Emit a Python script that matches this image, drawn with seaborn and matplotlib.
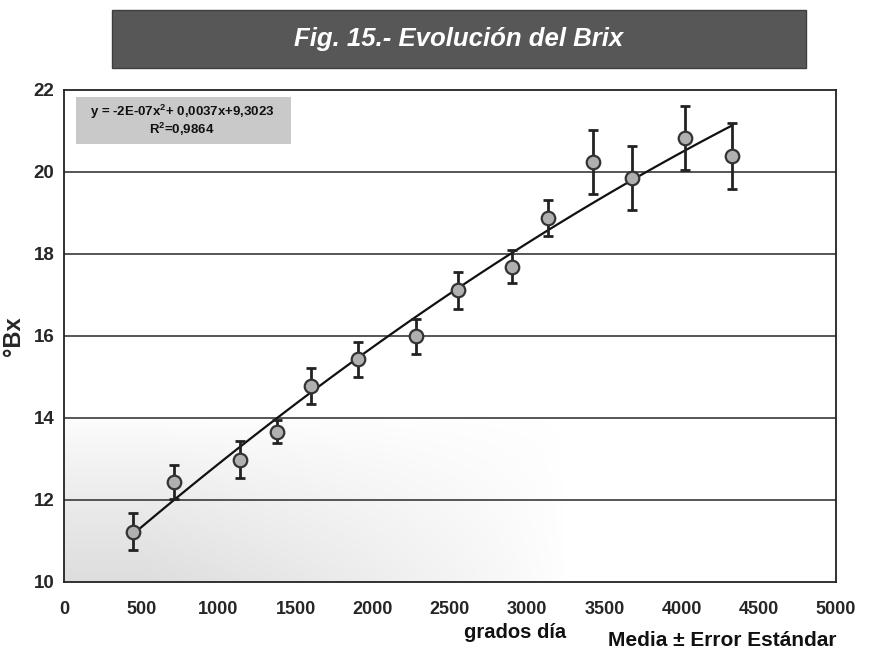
import numpy as np
import pandas as pd
import matplotlib
matplotlib.use("Agg")
import matplotlib.pyplot as plt
from matplotlib.patches import Rectangle
import seaborn as sns

# Degree-days and mean Brix with standard error
grados_dia = [445, 710, 1142, 1381, 1600, 1903, 2277, 2555, 2903, 3135, 3426, 3677, 4019, 4329]
brix = [11.23, 12.44, 12.98, 13.66, 14.78, 15.43, 15.99, 17.11, 17.69, 18.88, 20.24, 19.85, 20.83, 20.39]
error_std = [0.45, 0.41, 0.45, 0.28, 0.45, 0.43, 0.43, 0.44, 0.40, 0.44, 0.78, 0.78, 0.77, 0.80]

x_ticks = [0, 500, 1000, 1500, 2000, 2500, 3000, 3500, 4000, 4500, 5000]
y_ticks = [10, 12, 14, 16, 18, 20, 22]
titulo = "Fig. 15.- Evolución del Brix"
ecuacion = "y = -2E-07x$^2$+ 0,0037x+9,3023"
r2 = "R$^2$=0,9864"

df = pd.DataFrame({"gd": grados_dia, "brix": brix, "se": error_std})

sns.set_theme(style="white")
plt.rcParams["font.family"] = ["Liberation Sans", "DejaVu Sans"]
plt.rcParams["font.weight"] = "bold"
plt.rcParams["mathtext.fontset"] = "custom"
plt.rcParams["mathtext.rm"] = "Liberation Sans:bold"
plt.rcParams["mathtext.default"] = "rm"

fig = plt.figure(figsize=(8.69, 6.59), dpi=100)
ax = fig.add_axes([64 / 869, 77 / 659, 772 / 869, 492 / 659])

# soft grey shading in the lower-left of the plot area
gy, gx = np.mgrid[0:1:200j, 0:1:200j]
shade = np.clip(1 - gy / 0.34, 0, 1) ** 0.8 * np.clip(1 - (gx - 0.1) / 0.55, 0, 1) ** 0.8
rgba = np.zeros((200, 200, 4))
rgba[..., :3] = 0.74
rgba[..., 3] = 0.5 * shade
ax.imshow(rgba, extent=[0, 1, 0, 1], origin="lower", transform=ax.transAxes,
          aspect="auto", zorder=0, interpolation="bilinear")

# horizontal gridlines
for yv in y_ticks[1:-1]:
    ax.axhline(yv, color="#3a3a3a", lw=1.2, zorder=1)

# quadratic trend line
sns.regplot(data=df, x="gd", y="brix", order=2, ci=None, truncate=True,
            scatter=False, ax=ax, line_kws=dict(color="#111111", lw=1.6, zorder=2))

ax.errorbar(df["gd"], df["brix"], yerr=df["se"], fmt="none", ecolor="#222222",
            elinewidth=2.0, capsize=3.5, capthick=2.0, zorder=3)
sns.scatterplot(data=df, x="gd", y="brix", ax=ax, s=95, color="#b0b0b0",
                edgecolor="#333333", linewidth=1.6, zorder=4, legend=False)

ax.set_xlim(0, 5000)
ax.set_ylim(10, 22)
ax.set_xticks(x_ticks)
ax.set_yticks(y_ticks)
ax.set_xticklabels([str(v) for v in x_ticks], fontsize=13, fontweight="bold")
ax.set_yticklabels([str(v) for v in y_ticks], fontsize=13.5, fontweight="bold")
ax.tick_params(axis="x", direction="out", length=10, width=1.5, color="#222222", pad=4)
ax.tick_params(axis="y", direction="out", length=4, width=1.2, color="#222222", pad=3)
ax.set_xlabel("")
ax.set_ylabel("°Bx", fontsize=17, fontweight="bold", labelpad=6)
for s in ax.spines.values():
    s.set_color("#222222")
    s.set_linewidth(1.3)

# equation box
ax.add_patch(Rectangle((12 / 772, 1 - 54 / 492), 215 / 772, 47 / 492, transform=ax.transAxes,
                       fc="#c9c9c9", ec="none", zorder=5))
ax.text(118 / 772, 1 - 30.5 / 492, ecuacion + "\n" + r2, transform=ax.transAxes, ha="center",
        va="center", fontsize=9.5, fontweight="bold", color="#111111", linespacing=0.95, zorder=6)

# title banner
fig.patches.append(Rectangle((112 / 869, 1 - 68 / 659), 694 / 869, 58 / 659,
                             transform=fig.transFigure, fc="#575757", ec="#3e3e3e", lw=1))
fig.text(459 / 869, 1 - 39 / 659, titulo, ha="center", va="center", color="white",
         fontsize=18.5, fontweight="bold", style="italic")

fig.text(515 / 869, 1 - 632 / 659, "grados día", ha="center", va="center",
         fontsize=14.5, fontweight="bold", color="#111111")
fig.text(836 / 869, 1 - 640 / 659, "Media ± Error Estándar", ha="right", va="center",
         fontsize=15, fontweight="bold", color="#111111")

fig.savefig("out.png", dpi=100, facecolor="white")
